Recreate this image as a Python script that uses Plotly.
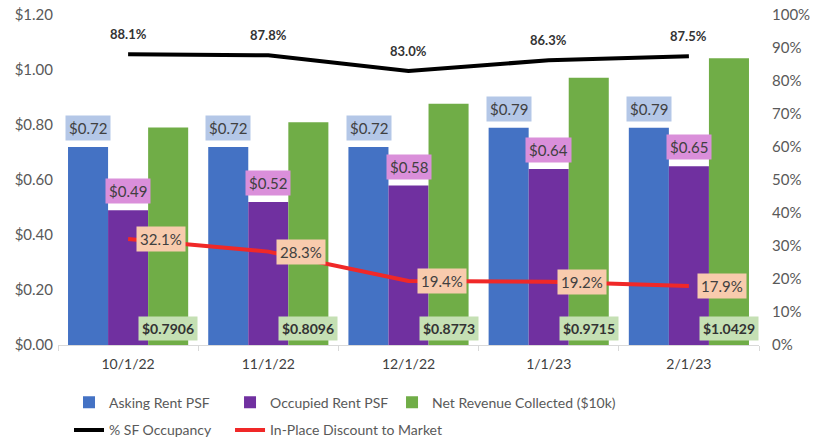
import plotly.graph_objects as go

categories = ["10/1/22", "11/1/22", "12/1/22", "1/1/23", "2/1/23"]
asking_rent = [0.72, 0.72, 0.72, 0.79, 0.79]
occupied_rent = [0.49, 0.52, 0.58, 0.64, 0.65]
net_revenue = [0.7906, 0.8096, 0.8773, 0.9715, 1.0429]
occupancy = [0.881, 0.878, 0.830, 0.863, 0.875]
discount = [0.321, 0.283, 0.194, 0.192, 0.179]

FONT = "Lato"
BLUE, PURPLE, GREEN = "#4472C4", "#7030A0", "#70AD47"
TXT = "#404040"

fig = go.Figure()
fig.add_trace(go.Bar(x=categories, y=asking_rent, name="Asking Rent PSF",
                     marker=dict(color=BLUE, line=dict(width=0)), legend="legend"))
fig.add_trace(go.Bar(x=categories, y=occupied_rent, name="Occupied Rent PSF",
                     marker=dict(color=PURPLE, line=dict(width=0)), legend="legend2"))
fig.add_trace(go.Bar(x=categories, y=net_revenue, name="Net Revenue Collected ($10k)",
                     marker=dict(color=GREEN, line=dict(width=0)), legend="legend3"))
fig.add_trace(go.Scatter(x=categories, y=occupancy, name="% SF Occupancy", mode="lines",
                         line=dict(color="#000000", width=4), yaxis="y2", legend="legend4"))
fig.add_trace(go.Scatter(x=categories, y=discount, name="In-Place Discount to Market",
                         mode="lines", line=dict(color="#F02828", width=4), yaxis="y2",
                         legend="legend5"))

ann = []
for c, a, o, n, oc, d in zip(categories, asking_rent, occupied_rent, net_revenue,
                              occupancy, discount):
    ann.append(dict(x=c, y=a, xref="x", yref="y", xshift=-40, yshift=6, yanchor="bottom",
                    text=f"${a:.2f}", showarrow=False, bgcolor="#B4C7E7", borderpad=3,
                    font=dict(family=FONT, size=15, color=TXT)))
    ann.append(dict(x=c, y=o, xref="x", yref="y", xshift=0, yshift=6, yanchor="bottom",
                    text=f"${o:.2f}", showarrow=False, bgcolor="#DA8FDA", borderpad=3,
                    font=dict(family=FONT, size=15, color=TXT)))
    ann.append(dict(x=c, y=0, xref="x", yref="y", xshift=40, yshift=4, yanchor="bottom",
                    text=f"<b>${n:.4f}</b>", showarrow=False, bgcolor="#C5E0B4", borderpad=3,
                    font=dict(family=FONT, size=14, color="#333333")))
    ann.append(dict(x=c, y=oc, xref="x", yref="y2", yshift=20,
                    text=f"<b>{oc*100:.1f}%</b>", showarrow=False,
                    font=dict(family=FONT, size=13, color="#333333")))
    ann.append(dict(x=c, y=d, xref="x", yref="y2", xshift=33,
                    text=f"{d*100:.1f}%", showarrow=False, bgcolor="#F8CBAD", borderpad=3,
                    font=dict(family=FONT, size=15, color=TXT)))

leg_font = dict(family=FONT, size=14, color="#595959")


def leg(x, y):
    return dict(orientation="h", x=x, y=y, xanchor="left", yanchor="top",
                font=leg_font, bgcolor="rgba(0,0,0,0)")


fig.update_layout(
    width=819, height=442,
    margin=dict(l=58, r=60, t=15, b=97, autoexpand=False),
    paper_bgcolor="white", plot_bgcolor="white",
    barmode="group", bargap=0.143, bargroupgap=0,
    font=dict(family=FONT, size=14, color="#595959"),
    xaxis=dict(type="category", showline=True, linecolor="#D9D9D9", linewidth=1,
               ticks="outside", tickson="boundaries", tickcolor="#D9D9D9", ticklen=5,
               ticklabelstandoff=6,
               tickfont=dict(family=FONT, size=14, color=TXT), showgrid=False),
    yaxis=dict(range=[0, 1.2], dtick=0.2, tickprefix="$", tickformat=".2f",
               showgrid=False, zeroline=False, showline=False, ticklabelstandoff=4,
               tickfont=dict(family=FONT, size=15, color="#595959")),
    yaxis2=dict(range=[0, 1.0], dtick=0.1, tickformat=".0%", overlaying="y", side="right",
                showgrid=False, zeroline=False, showline=False, ticklabelstandoff=12,
                tickfont=dict(family=FONT, size=15, color="#595959")),
    legend=leg(0.0157, -0.126),
    legend2=leg(0.2454, -0.126),
    legend3=leg(0.4765, -0.126),
    legend4=leg(0.0157, -0.21),
    legend5=leg(0.2454, -0.21),
    annotations=ann,
    showlegend=True,
)

fig.write_html("out.html")
